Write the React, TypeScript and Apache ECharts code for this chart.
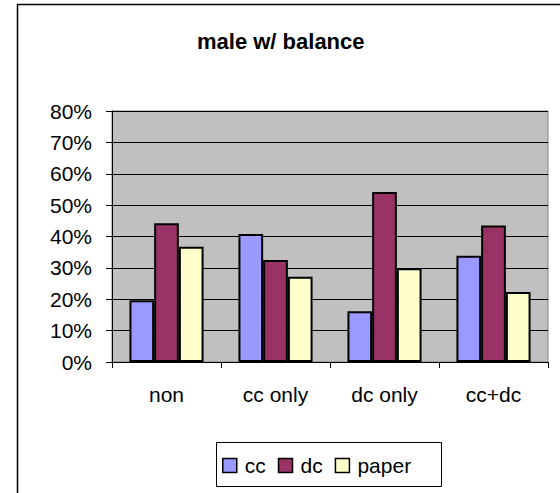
import React, { useEffect, useRef } from "react";
import * as echarts from "echarts";

const title = "male w/ balance";
const categories = ["non", "cc only", "dc only", "cc+dc"];
const seriesNames = ["cc", "dc", "paper"];
const ccValues = [0.197, 0.408, 0.162, 0.339];
const dcValues = [0.442, 0.325, 0.542, 0.435];
const paperValues = [0.367, 0.272, 0.299, 0.223];
const colors = ["#9999FF", "#993366", "#FFFFCC"];
const yTicks = [0, 0.1, 0.2, 0.3, 0.4, 0.5, 0.6, 0.7, 0.8];

export default function App() {
  const ref = useRef<HTMLDivElement>(null);
  useEffect(() => {
    if (!ref.current) return;
    const chart = echarts.init(ref.current, undefined, { renderer: "svg" });
    const font = "'Liberation Sans', Arial, sans-serif";
    const values = [ccValues, dcValues, paperValues];
    chart.setOption({
      animation: false,
      backgroundColor: "#ffffff",
      title: {
        text: title,
        left: 192,
        top: 25,
        textStyle: { fontFamily: font, fontSize: 22, fontWeight: "bold", color: "#000" },
      },
      grid: {
        left: 112,
        right: 12,
        top: 111,
        bottom: 131,
        show: true,
        backgroundColor: "#C0C0C0",
        borderColor: "#808080",
        borderWidth: 1,
      },
      legend: {
        data: seriesNames,
        left: 222,
        top: 455,
        icon: "rect",
        itemWidth: 14,
        itemHeight: 14,
        itemGap: 12,
        padding: 0,
        textStyle: { fontFamily: font, fontSize: 21, color: "#000", padding: [0, 0, 0, 3] },
        itemStyle: { borderColor: "#000", borderWidth: 1.5 },
      },
      xAxis: {
        type: "category",
        data: categories,
        axisLine: { lineStyle: { color: "#000", width: 1 } },
        axisTick: { show: true, alignWithLabel: false, length: 6, lineStyle: { color: "#000" } },
        axisLabel: { fontFamily: font, fontSize: 21, color: "#000", margin: 22 },
      },
      yAxis: {
        type: "value",
        min: 0,
        max: 0.8,
        interval: 0.1,
        axisLine: { show: true, lineStyle: { color: "#000", width: 1 } },
        axisTick: { show: true, length: 6, lineStyle: { color: "#000" } },
        axisLabel: {
          fontFamily: font,
          fontSize: 21,
          color: "#000",
          margin: 20,
          formatter: (v: number) => {
            const t = yTicks.find((x) => Math.abs(x - v) < 1e-6);
            return Math.round((t ?? v) * 100) + "%";
          },
        },
        splitLine: { show: true, lineStyle: { color: "#000", width: 1 } },
      },
      series: seriesNames.map((name, i) => ({
        name,
        type: "bar",
        data: values[i],
        barGap: "0%",
        barCategoryGap: "32%",
        itemStyle: { color: colors[i], borderColor: "#000", borderWidth: 2 },
      })),
      graphic: [
        {
          type: "rect",
          shape: { x: 17.5, y: 4.5, width: 700, height: 700 },
          style: { fill: "none", stroke: "#000", lineWidth: 1.5 },
          silent: true,
          z: 100,
        },
        {
          type: "rect",
          shape: { x: 216.5, y: 442.5, width: 225, height: 44 },
          style: { fill: "none", stroke: "#000", lineWidth: 1 },
          silent: true,
          z: 100,
        },
      ],
    });
    return () => chart.dispose();
  }, []);
  return (
    <div
      ref={ref}
      style={{ position: "absolute", left: 0, top: 0, width: 560, height: 493 }}
    />
  );
}
